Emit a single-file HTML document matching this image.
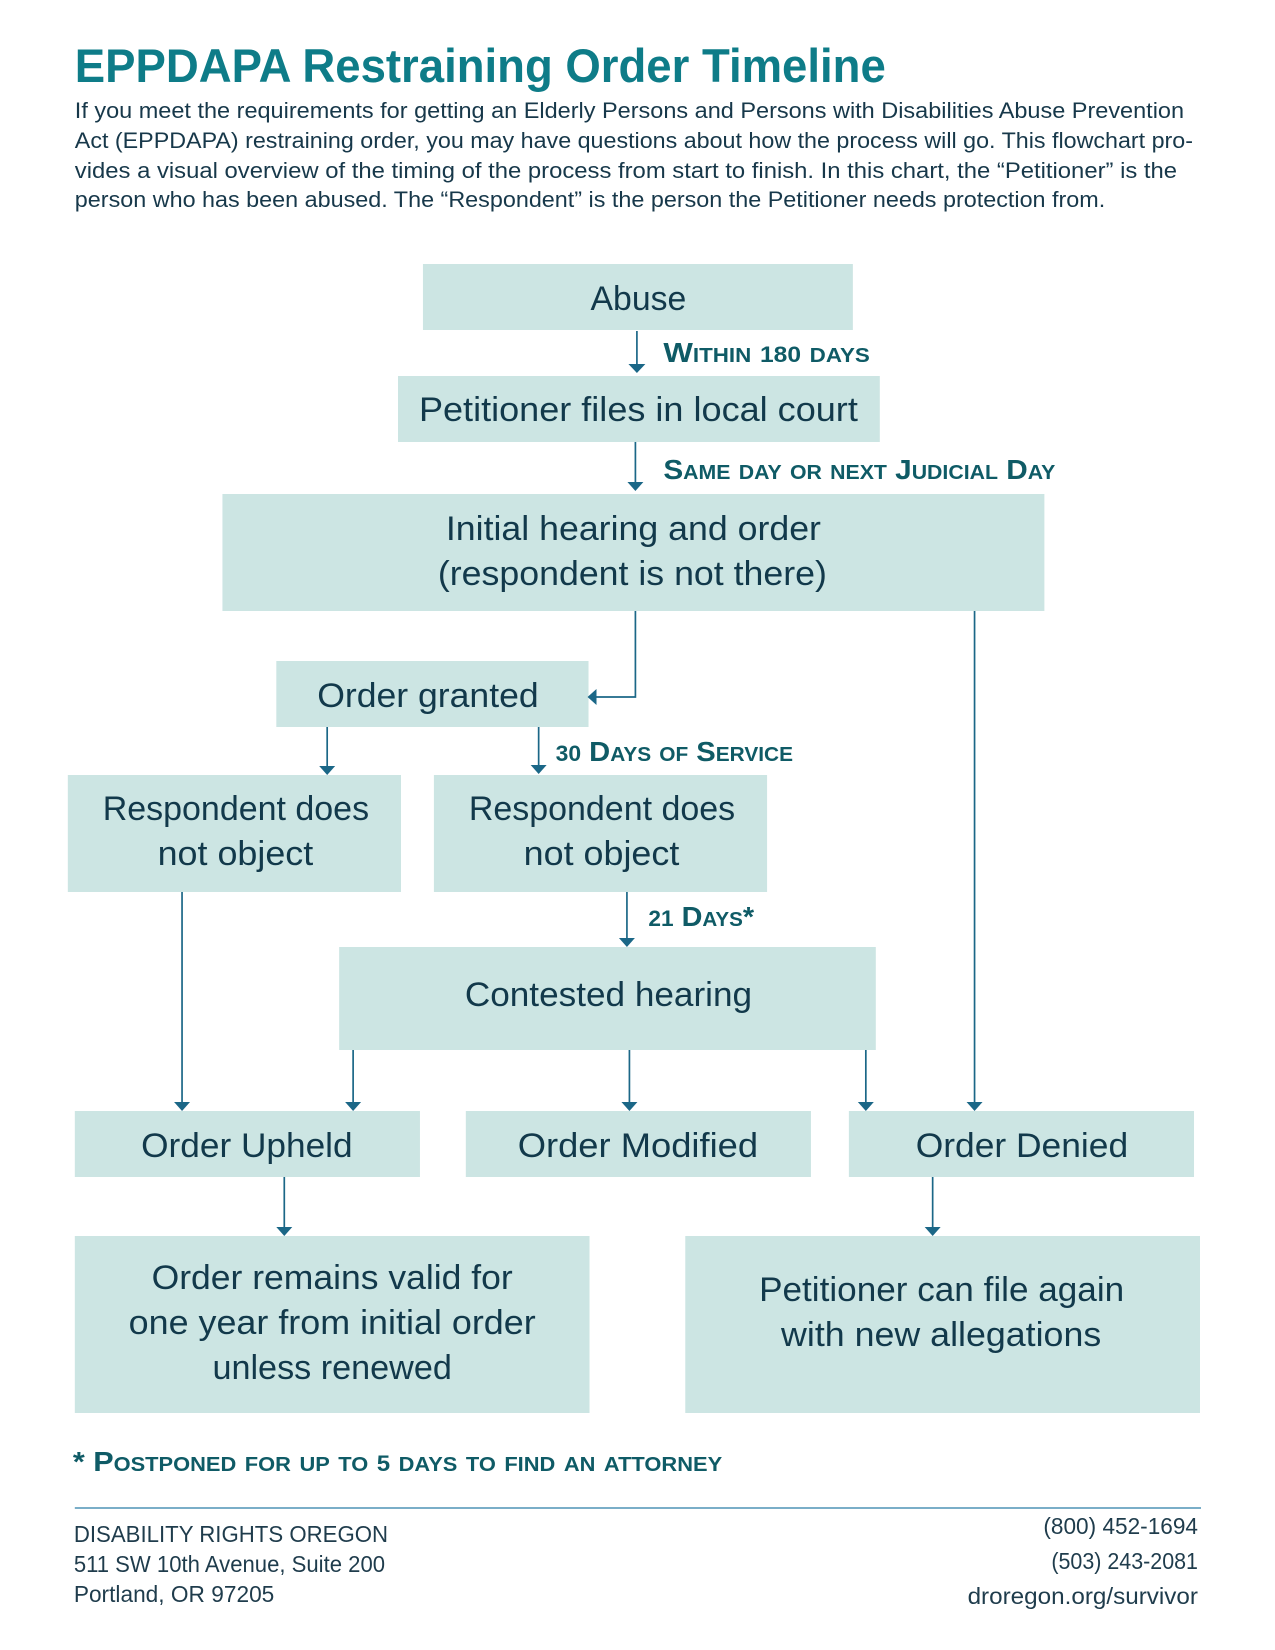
<!DOCTYPE html>
<html><head><meta charset="utf-8"><style>
html,body{margin:0;padding:0;background:#fff}
svg{display:block}
text{font-family:"Liberation Sans",sans-serif}
.t{font-size:34px;fill:#12394b}
.b{font-size:22px;fill:#17384a}
.f{font-size:23px;fill:#1f3c4c}
.l{font-size:28px;font-weight:bold;font-variant:small-caps;fill:#0f5b66}
.d{font-size:22px}
rect{fill:#cce5e3}
.a line,.a polyline{stroke:#1b6787;stroke-width:1.7;fill:none}
.a polygon{fill:#1b6787}
</style></head><body>
<svg width="1275" height="1650" viewBox="0 0 1275 1650" xmlns="http://www.w3.org/2000/svg">
<g transform="scale(0.9975,1)">
<text x="75" y="82" font-size="47" font-weight="bold" fill="#0e7c88" textLength="813" lengthAdjust="spacingAndGlyphs">EPPDAPA Restraining Order Timeline</text>
<text class="b" x="75" y="118" textLength="1112" lengthAdjust="spacingAndGlyphs">If you meet the requirements for getting an Elderly Persons and Persons with Disabilities Abuse Prevention</text>
<text class="b" x="75" y="148" textLength="1121" lengthAdjust="spacingAndGlyphs">Act (EPPDAPA) restraining order, you may have questions about how the process will go. This flowchart pro-</text>
<text class="b" x="75" y="178" textLength="1105" lengthAdjust="spacingAndGlyphs">vides a visual overview of the timing of the process from start to finish. In this chart, the “Petitioner” is the</text>
<text class="b" x="75" y="207" textLength="1033" lengthAdjust="spacingAndGlyphs">person who has been abused. The “Respondent” is the person the Petitioner needs protection from.</text>

<rect x="424" y="264" width="431" height="66"/>
<rect x="399" y="376" width="483" height="66"/>
<rect x="223" y="494" width="824" height="117"/>
<rect x="277" y="661" width="313" height="66"/>
<rect x="68" y="775" width="334" height="117"/>
<rect x="435" y="775" width="334" height="117"/>
<rect x="340" y="947" width="538" height="103"/>
<rect x="75" y="1111" width="346" height="66"/>
<rect x="467" y="1111" width="346" height="66"/>
<rect x="851" y="1111" width="346" height="66"/>
<rect x="75" y="1236" width="516" height="177"/>
<rect x="687" y="1236" width="516" height="177"/>

<g class="a">
<line x1="638.5" y1="331" x2="638.5" y2="366"/><polygon points="630,364 647,364 638.5,373"/>
<line x1="637" y1="442" x2="637" y2="484"/><polygon points="629,482 645,482 637,491"/>
<polyline points="637,611 637,697 596,697"/><polygon points="598,689 598,705 589,697"/>
<line x1="977" y1="611" x2="977" y2="1104"/><polygon points="969,1102 985,1102 977,1111"/>
<line x1="328" y1="727" x2="328" y2="768"/><polygon points="320,766 336,766 328,775"/>
<line x1="540" y1="727" x2="540" y2="767"/><polygon points="532,765 548,765 540,774"/>
<line x1="628.5" y1="892" x2="628.5" y2="940"/><polygon points="620.5,938 636.5,938 628.5,947"/>
<line x1="182.5" y1="892" x2="182.5" y2="1104"/><polygon points="174.5,1102 190.5,1102 182.5,1111"/>
<line x1="354" y1="1050" x2="354" y2="1104"/><polygon points="346,1102 362,1102 354,1111"/>
<line x1="631" y1="1050" x2="631" y2="1104"/><polygon points="623,1102 639,1102 631,1111"/>
<line x1="868" y1="1050" x2="868" y2="1104"/><polygon points="860,1102 876,1102 868,1111"/>
<line x1="285" y1="1177" x2="285" y2="1229"/><polygon points="277,1227 293,1227 285,1236"/>
<line x1="935" y1="1177" x2="935" y2="1229"/><polygon points="927,1227 943,1227 935,1236"/>
</g>

<text class="t" x="592" y="310" textLength="96" lengthAdjust="spacingAndGlyphs">Abuse</text>
<text class="t" x="420" y="421" textLength="440" lengthAdjust="spacingAndGlyphs">Petitioner files in local court</text>
<text class="t" x="447" y="540" textLength="376" lengthAdjust="spacingAndGlyphs">Initial hearing and order</text>
<text class="t" x="439" y="585" textLength="390" lengthAdjust="spacingAndGlyphs">(respondent is not there)</text>
<text class="t" x="318" y="707" textLength="222" lengthAdjust="spacingAndGlyphs">Order granted</text>
<text class="t" x="103" y="820" textLength="267" lengthAdjust="spacingAndGlyphs">Respondent does</text>
<text class="t" x="158" y="865" textLength="156" lengthAdjust="spacingAndGlyphs">not object</text>
<text class="t" x="470" y="820" textLength="267" lengthAdjust="spacingAndGlyphs">Respondent does</text>
<text class="t" x="525" y="865" textLength="156" lengthAdjust="spacingAndGlyphs">not object</text>
<text class="t" x="466" y="1006" textLength="288" lengthAdjust="spacingAndGlyphs">Contested hearing</text>
<text class="t" x="141.5" y="1157" textLength="212" lengthAdjust="spacingAndGlyphs">Order Upheld</text>
<text class="t" x="519" y="1157" textLength="241" lengthAdjust="spacingAndGlyphs">Order Modified</text>
<text class="t" x="918" y="1157" textLength="213" lengthAdjust="spacingAndGlyphs">Order Denied</text>
<text class="t" x="152" y="1289" textLength="362" lengthAdjust="spacingAndGlyphs">Order remains valid for</text>
<text class="t" x="129" y="1334" textLength="408" lengthAdjust="spacingAndGlyphs">one year from initial order</text>
<text class="t" x="213" y="1379" textLength="240" lengthAdjust="spacingAndGlyphs">unless renewed</text>
<text class="t" x="761" y="1301" textLength="366" lengthAdjust="spacingAndGlyphs">Petitioner can file again</text>
<text class="t" x="783" y="1346" textLength="321" lengthAdjust="spacingAndGlyphs">with new allegations</text>

<text class="l" x="665" y="362" textLength="207" lengthAdjust="spacingAndGlyphs">Within <tspan class="d">180</tspan> days</text>
<text class="l" x="665" y="479" textLength="393" lengthAdjust="spacingAndGlyphs">Same day or next Judicial Day</text>
<text class="l" x="557" y="761" textLength="238" lengthAdjust="spacingAndGlyphs"><tspan class="d">30</tspan> Days of Service</text>
<text class="l" x="650" y="926" textLength="106" lengthAdjust="spacingAndGlyphs"><tspan class="d">21</tspan> Days*</text>
<text class="l" x="73" y="1471" textLength="651" lengthAdjust="spacingAndGlyphs">* Postponed for up to <tspan class="d">5</tspan> days to find an attorney</text>

<rect x="75" y="1507" width="1129" height="2" style="fill:#7aaec8"/>

<text class="f" x="74" y="1542" textLength="315" lengthAdjust="spacingAndGlyphs">DISABILITY RIGHTS OREGON</text>
<text class="f" x="74" y="1572" textLength="312" lengthAdjust="spacingAndGlyphs">511 SW 10th Avenue, Suite 200</text>
<text class="f" x="74" y="1602" textLength="201" lengthAdjust="spacingAndGlyphs">Portland, OR 97205</text>
<text class="f" x="1046" y="1534" textLength="155" lengthAdjust="spacingAndGlyphs">(800) 452-1694</text>
<text class="f" x="1054" y="1569" textLength="147" lengthAdjust="spacingAndGlyphs">(503) 243-2081</text>
<text class="f" x="970" y="1604" textLength="231" lengthAdjust="spacingAndGlyphs">droregon.org/survivor</text>
</g>
</svg>
</body></html>
